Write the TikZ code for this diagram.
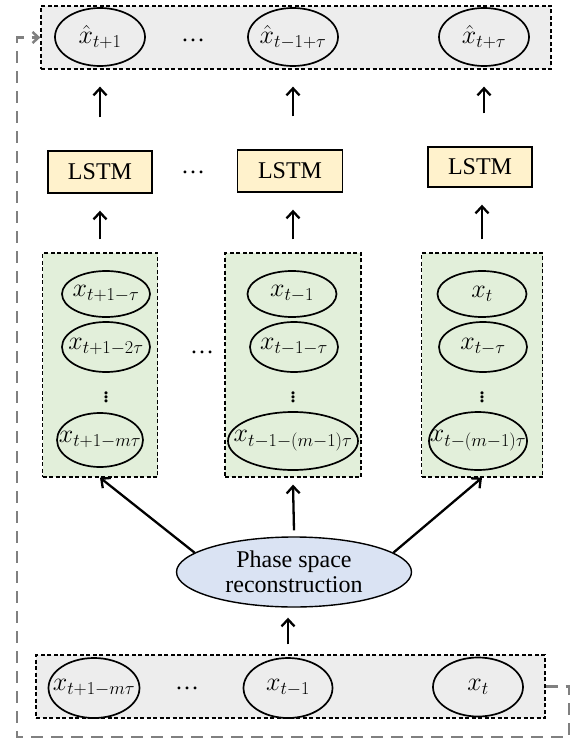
\documentclass[tikz,border=0pt]{standalone}
\usepackage{fix-cm}
\usepackage{fontspec}
\setmainfont{Liberation Serif}
\usepackage{amsmath}
\usetikzlibrary{positioning,shapes,arrows.meta,calc}
\definecolor{boxgray}{HTML}{EDEDED}
\definecolor{boxgreen}{HTML}{E2EFDA}
\definecolor{lstmyellow}{HTML}{FFF2CC}
\definecolor{phaseblue}{HTML}{DAE3F3}
\definecolor{loopgray}{HTML}{808080}
% label that does not widen its ellipse
\newcommand{\vlab}[1]{\makebox[0pt]{$#1$}}

\begin{document}
\begin{tikzpicture}[x=1pt, y=-1pt,
    txt/.style={font=\fontsize{24}{25}\selectfont},
    var/.style={draw, ellipse, line width=1.7pt, inner sep=0pt, font=\fontsize{26}{27}\selectfont},
    group/.style={draw, rectangle, dash pattern=on 4pt off 2.5pt, line width=1.3pt, inner sep=0pt},
    lstm/.style={draw, rectangle, fill=lstmyellow, line width=1.4pt, minimum height=42pt, txt},
    up/.style={-{Straight Barb[length=7pt,width=13pt]}, line width=2.3pt},
    feedback/.style={loopgray, line width=2.5pt, dash pattern=on 12pt off 8pt,
        -{Straight Barb[length=6pt,width=11pt]}}]

    \useasboundingbox (0,0) rectangle (572,741);

    % predicted outputs
    \node[group, fill=boxgray, minimum width=510pt, minimum height=63pt] (top) at (296,37.5) {};
    \node[var, minimum width=90pt, minimum height=58pt] (h1) at (100,37) {\vlab{\hat{x}_{t+1}}};
    \node[var, minimum width=90pt, minimum height=58pt] (h2) at (293,37) {\vlab{\hat{x}_{t-1+\tau}}};
    \node[var, minimum width=90pt, minimum height=58pt] (h3) at (484,37) {\vlab{\hat{x}_{t+\tau}}};
    \node[txt] (hdots) at (193,40) {\dots};

    % LSTM cells
    \node[lstm, minimum width=104pt] (lstm1) at (100,172) {LSTM};
    \node[lstm, minimum width=105pt] (lstm2) at (290,171) {LSTM};
    \node[lstm, minimum width=104pt, minimum height=40pt] (lstm3) at (480,167) {LSTM};
    \node[txt] (ldots) at (193,172) {\dots};

    % reconstructed vectors
    \node[group, fill=boxgreen, minimum width=115pt, minimum height=224pt] (g1) at (100,365) {};
    \node[group, fill=boxgreen, minimum width=136pt, minimum height=224pt] (g2) at (293,365) {};
    \node[group, fill=boxgreen, minimum width=121pt, minimum height=224pt] (g3) at (482,365) {};
    \node[txt] (gdots) at (202,352) {\dots};

    \node[var, minimum width=88pt, minimum height=46pt] (a1) at (106,294) {\vlab{x_{t+1-\tau}}};
    \node[var, minimum width=88pt, minimum height=50pt] (a2) at (106,347) {\vlab{x_{t+1-2\tau}}};
    \node[var, draw=none] (a3) at (106,394) {$\vdots$};
    \node[var, minimum width=86pt, minimum height=54pt] (a4) at (100,440) {\vlab{x_{t+1-m\tau}}};

    \node[var, minimum width=89pt, minimum height=46pt] (b1) at (292,294) {\vlab{x_{t-1}}};
    \node[var, minimum width=88pt, minimum height=50pt] (b2) at (294,347) {\vlab{x_{t-1-\tau}}};
    \node[var, draw=none] (b3) at (293,394) {$\vdots$};
    \node[var, minimum width=130pt, minimum height=58pt] (b4) at (293,441) {\vlab{x_{t-1-(m-1)\tau}}};

    \node[var, minimum width=89pt, minimum height=46pt] (c1) at (482,294) {\vlab{x_{t}}};
    \node[var, minimum width=88pt, minimum height=50pt] (c2) at (483,347) {\vlab{x_{t-\tau}}};
    \node[var, draw=none] (c3) at (482,394) {$\vdots$};
    \node[var, minimum width=98pt, minimum height=58pt] (c4) at (478,441) {\vlab{x_{t-(m-1)\tau}}};

    % phase space reconstruction
    \node[draw, ellipse, fill=phaseblue, line width=1.4pt, minimum width=235pt, minimum height=70pt,
        align=center, txt] (psr) at (294,572) {Phase space\\reconstruction};

    % input series
    \node[group, fill=boxgray, minimum width=509pt, minimum height=63pt] (bot) at (290.5,686.5) {};
    \node[var, minimum width=91pt, minimum height=60pt] (d1) at (94,688) {\vlab{x_{t+1-m\tau}}};
    \node[var, minimum width=89pt, minimum height=60pt] (d2) at (288,688) {\vlab{x_{t-1}}};
    \node[var, minimum width=90pt, minimum height=59pt] (d3) at (478,687) {\vlab{x_{t}}};
    \node[txt] (bdots) at (187,688) {\dots};

    % connectors
    \foreach \g/\l/\h in {g1/lstm1/h1, g2/lstm2/h2, g3/lstm3/h3} {
        \draw[up, shorten <=13pt, shorten >=17pt] (\g.north) -- (\g.north |- \l.south);
        \draw[up, shorten <=33pt, shorten >=17pt] (\h |- \l.north) -- (\h |- top.south);
    }
    \draw[up] (psr.169) -- (g1.south);
    \draw[up] ([yshift=6pt]psr.north) -- ([yshift=-7pt]g2.south);
    \draw[up] (psr.11) -- (g3.south);
    \draw[up, shorten <=10pt, shorten >=10pt] (d2 |- bot.north) -- (d2 |- psr.south);

    % feedback loop
    \coordinate (fbR) at (569,737);
    \coordinate (fbL) at (17,737);
    \draw[feedback] (bot.east) -| (fbR) -- (fbL) |- (top.west);
\end{tikzpicture}
\end{document}
